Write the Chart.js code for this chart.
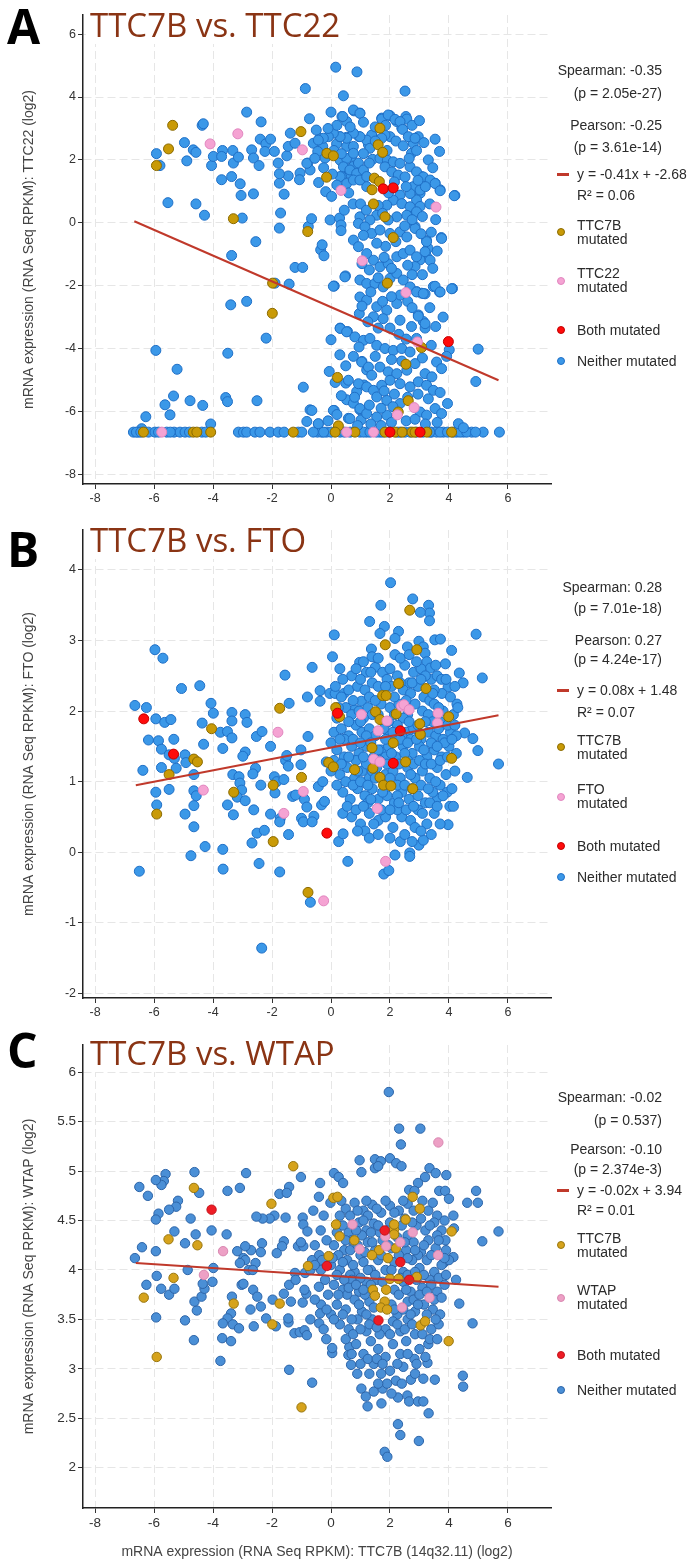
<!DOCTYPE html>
<html>
<head>
<meta charset="utf-8">
<title>TTC7B co-expression</title>
<script src="https://cdn.jsdelivr.net/npm/chart.js@4.4.1/dist/chart.umd.min.js"></script>
<style>
  html, body { margin: 0; padding: 0; background: #fff; }
  body { position: relative; width: 688px; height: 1561px; overflow: hidden; font-family: "Liberation Sans", Arial, sans-serif; color: #2b2b2b; }
  .panel { position: absolute; left: 0; width: 688px; }
  .panel canvas { position: absolute; left: 0; top: 0; }
  .letter { position: absolute; left: 7px; font-family: "Open Sans", sans-serif; font-weight: 700; font-size: 48px; line-height: 48px; color: #000; }
  .title { position: absolute; left: 86px; padding: 0 5px 0 4px; background: #fff; font-family: "Open Sans", sans-serif; font-size: 33px; line-height: 38px; color: #8a3414; white-space: nowrap; }
  .stat { position: absolute; left: 470px; width: 192px; text-align: right; font-size: 14px; line-height: 16px; white-space: nowrap; }
  .lab { position: absolute; left: 577px; font-size: 14px; line-height: 14px; white-space: nowrap; }
  .dot { position: absolute; left: 557px; width: 8px; height: 8px; border-radius: 50%; border: 1px solid; box-sizing: border-box; }
  .dash { position: absolute; left: 557px; width: 12px; height: 3px; background: #c0392b; }
</style>
</head>
<body>
<script>
// ---- shared axis data ----
const X_TICKS = [-8, -6, -4, -2, 0, 2, 4, 6];
const X_TITLE = "mRNA expression (RNA Seq RPKM): TTC7B (14q32.11) (log2)";
const GROUP_LABELS = { t7b: "TTC7B\nmutated", both: "Both mutated", neither: "Neither mutated" };

// ---- panel A: TTC7B vs. TTC22 ----
const A_TITLE = "TTC7B vs. TTC22";
const A_Y_TITLE = "mRNA expression (RNA Seq RPKM): TTC22 (log2)";
const A_Y_TICKS = [-8, -6, -4, -2, 0, 2, 4, 6];
const A_STATS = ["Spearman: -0.35", "(p = 2.05e-27)", "Pearson: -0.25", "(p = 3.61e-14)"];
const A_FIT_LABEL = ["y = -0.41x + -2.68", "R² = 0.06"];
const A_PARTNER_LABEL = "TTC22\nmutated";
const A_FIT = [[-6.67, 0.05], [5.68, -5.01]];
const A_BOTH = [[1.77, 1.08], [2.11, 1.11], [3.98, -3.78], [2.0, -6.66], [3.02, -6.66]];
const A_T7B = [[-5.37, 3.10], [-5.51, 2.35], [-5.92, 1.82], [-1.02, 2.90], [1.66, 3.01], [-0.14, 2.21], [0.08, 2.13],
  [-0.15, 1.45], [1.47, 1.42], [1.64, 1.31], [1.39, 1.05], [1.44, 0.60], [1.83, 0.19], [2.11, -0.47], [1.60, 2.48],
  [1.75, 2.24], [1.91, -1.92], [3.07, -3.97], [2.54, -4.50], [2.62, -5.66], [2.28, -6.02], [0.22, -4.92], [-1.98, -1.92],
  [-1.99, -2.88], [-3.31, 0.13], [-0.79, -0.28], [0.25, -6.46],
  [-6.36, -6.66], [-4.67, -6.66], [-4.55, -6.66], [-4.08, -6.66], [-1.28, -6.66], [0.14, -6.66], [0.81, -6.66],
  [1.83, -6.66], [2.17, -6.66], [2.41, -6.66], [2.75, -6.66], [2.85, -6.66], [3.25, -6.66], [4.09, -6.66]];
const A_PARTNER = [[-3.16, 2.83], [-4.10, 2.51], [-0.97, 2.32], [0.34, 1.03], [3.56, 0.50], [1.06, -1.21], [2.54, -2.22],
  [2.93, -3.79], [2.82, -5.88], [2.25, -6.11], [-5.74, -6.66], [0.53, -6.66], [1.44, -6.66]];
const A_NEITHER = [
  [0.16, 4.95], [0.88, 4.80], [-0.87, 4.27], [0.42, 4.04], [2.51, 4.19], [-2.86, 3.52], [0.0, 3.52], [0.78, 3.56], [0.98, 3.49],
  [0.37, 3.38], [0.53, 3.22], [-0.73, 3.31], [-2.37, 3.21], [-4.37, 3.10], [-4.33, 3.15], [1.72, 3.33], [2.0, 3.41], [2.23, 3.22],
  [2.54, 3.38], [2.40, 3.01], [-1.38, 2.85], [-4.97, 2.55], [-4.67, 2.32], [-4.58, 2.24], [-5.92, 2.20], [-5.80, 1.82],
  [-4.89, 1.97], [-4.05, 1.82], [-3.99, 2.11], [-3.68, 2.30], [-3.71, 2.11], [-3.33, 2.30], [-3.31, 1.90], [-3.14, 2.09],
  [-2.69, 2.32], [-2.63, 2.06], [-2.44, 1.82], [-2.40, 2.66], [-2.21, 2.51], [-2.05, 2.66], [-2.24, 2.27], [-1.92, 2.27],
  [-1.79, 1.90], [-1.50, 2.13], [-1.45, 2.43], [-1.22, 2.53], [-0.79, 1.90], [-0.71, 1.68], [-1.05, 1.58], [-1.07, 1.37],
  [-0.60, 2.53], [-0.38, 2.69], [-0.28, 2.43], [-0.45, 2.27], [-0.20, 2.06], [-0.42, 1.28], [-0.18, 0.99], [0.02, 0.84],
  [0.19, 2.51], [0.30, 2.74], [0.53, 2.72], [0.53, 2.43], [0.76, 2.43], [0.70, 2.11], [0.42, 1.90], [0.59, 1.58], [0.36, 1.47],
  [0.76, 1.79], [0.93, 1.90], [1.10, 1.58], [0.98, 1.37], [1.21, 1.15], [0.95, 2.74], [1.27, 2.48], [1.40, 2.77], [4.20, 0.87],
  [3.53, 2.66], [3.68, 2.27], [2.96, 2.74], [2.79, 2.53], [2.73, 2.21], [3.07, 1.47], [3.36, 1.31], [3.53, 1.26], [3.70, 1.05],
  [3.02, 0.94], [2.90, 0.73], [3.02, 0.52], [2.79, 0.31], [2.85, -0.12], [3.74, -0.47], [3.24, -0.56], [3.29, -0.81],
  [3.24, -1.07], [3.02, -1.18], [2.85, -1.39], [3.47, -2.03], [3.68, -2.20], [4.12, -2.09], [2.90, -2.19], [3.07, -2.24],
  [3.19, -2.26], [2.96, -2.93], [3.13, -3.14], [3.19, -3.35], [2.73, -3.30], [4.01, -4.04], [3.92, -4.25], [4.99, -4.02],
  [4.91, -5.05], [-1.90, -1.92], [-3.01, 0.15], [-5.53, 0.64], [-4.58, 0.60], [-4.29, 0.24], [-1.75, 1.26], [-1.59, 0.91],
  [-1.71, 0.31], [-1.75, -0.17], [-2.63, 0.92], [-3.05, 0.87], [-1.45, 1.49], [-1.75, 1.56], [-0.77, -0.12], [-0.66, 0.13],
  [-0.03, 0.09], [0.29, 0.15], [0.34, -0.07], [0.34, -0.25], [-2.55, -0.60], [-3.37, -1.04], [-0.35, -0.86], [-0.30, -0.70],
  [-0.24, -1.05], [-1.22, -1.42], [-0.96, -1.42], [-1.42, -1.95], [0.49, -1.69], [0.11, -2.01], [-3.40, -2.61], [-2.86, -2.50],
  [-2.2, -3.67], [0.0, -3.72], [0.31, -3.35], [0.56, -3.46], [-5.94, -4.06], [-3.50, -4.15], [-5.22, -4.66], [-5.63, -5.79],
  [-5.46, -6.11], [-5.34, -5.51], [-6.28, -6.17], [-4.78, -5.66], [-4.35, -5.81], [-3.57, -5.56], [-3.51, -5.69], [-2.51, -5.66],
  [-4.08, -6.40], [-0.94, -5.23], [-0.06, -4.73], [0.14, -5.08], [0.50, -5.10], [0.76, -4.25], [1.05, -4.41], [1.21, -4.68],
  [0.11, -5.97], [-0.71, -5.95], [-0.82, -6.32], [-0.43, -6.40], [0.53, -5.63], [0.76, -5.74], [0.98, -5.95], [0.87, -5.37],
  [1.12, -5.16], [0.59, -6.22], [1.02, -6.27], [-3.71, 1.37], [-3.37, 1.47], [-3.08, 1.24], [-6.42, -6.55],
  [-6.70, -6.66], [-6.53, -6.66], [-6.19, -6.66], [-5.97, -6.66], [-5.57, -6.66], [-5.32, -6.66], [-5.12, -6.66], [-4.95, -6.66],
  [-4.38, -6.66], [-3.14, -6.66], [-2.97, -6.66], [-2.86, -6.66], [-2.58, -6.66], [-2.41, -6.66], [-2.07, -6.66], [-1.79, -6.66],
  [-1.59, -6.66], [-1.11, -6.66], [-0.99, -6.66], [-0.46, -6.66], [-0.32, -6.66], [-0.15, -6.66], [0.31, -6.66], [0.98, -6.66],
  [1.21, -6.66], [1.66, -6.66], [2.34, -6.66], [2.51, -6.66], [2.68, -6.66], [2.90, -6.66], [3.41, -6.66], [3.58, -6.66],
  [3.81, -6.66], [4.26, -6.66], [4.49, -6.66], [4.77, -6.66], [5.16, -6.66], [5.71, -6.66], [-6.60, -6.66], [-6.45, -6.66],
  [-5.85, -6.66], [-5.45, -6.66], [-4.80, -6.66], [-4.25, -6.66], [0.0, -6.66], [0.45, -6.66], [0.65, -6.66], [1.10, -6.66],
  [1.32, -6.66], [1.55, -6.66], [1.75, -6.66], [1.95, -6.66], [2.25, -6.66], [3.12, -6.66], [3.35, -6.66], [3.70, -6.66],
  [3.95, -6.66], [4.15, -6.66], [4.38, -6.66], [4.60, -6.66], [4.90, -6.66], [-0.60, -6.66], [-0.25, -6.66],
  [4.32, -6.39], [4.49, -6.52],
  [1.72, 3.30], [2.57, 3.30], [0.40, 3.38], [0.76, 3.59], [0.98, 3.48], [1.94, 3.43], [2.17, 3.29], [2.34, 3.22], [2.43, 2.97],
  [2.62, 2.74], [2.85, 2.69], [2.0, 2.74], [1.83, 2.79], [1.72, 2.69], [1.38, 2.79], [1.21, 2.63], [1.32, 2.37], [0.98, 2.74],
  [0.76, 2.85], [0.53, 2.69], [0.31, 2.74], [0.08, 2.85], [-0.09, 2.74], [-0.26, 2.69], [-0.43, 2.63], [-0.82, 1.89],
  [0.31, 1.99], [0.53, 2.05], [0.76, 2.21], [0.42, 1.78], [0.64, 1.68], [0.87, 1.57], [1.10, 1.68], [0.31, 1.47], [0.53, 1.25],
  [0.76, 1.36], [0.98, 1.36], [1.21, 1.47], [1.41, 2.02], [1.66, 2.05], [1.91, 1.99], [2.11, 1.94], [2.34, 1.89], [1.83, 1.78],
  [2.06, 1.62], [2.28, 1.52], [2.51, 1.46], [2.68, 1.78], [2.90, 1.62], [3.13, 1.46], [3.36, 1.36], [3.53, 1.25], [3.70, 1.02],
  [4.18, 0.86], [2.79, 1.15], [3.02, 1.04], [2.68, 0.93], [2.34, 0.88], [2.11, 0.72], [1.89, 0.56], [2.40, 0.61], [2.68, 0.51],
  [2.90, 0.35], [2.57, 0.24], [2.23, 0.19], [1.94, 0.09], [1.55, 0.24], [1.32, 0.09], [0.98, 0.19], [0.93, -0.02], [1.15, -0.13],
  [1.38, -0.34], [1.66, -0.23], [2.0, -0.34], [2.34, -0.29], [2.57, -0.45], [2.85, -0.18], [3.24, -0.60], [3.75, -0.50],
  [0.76, -0.55], [0.93, -0.76], [1.21, -0.98], [1.44, -1.19], [1.66, -1.40], [1.94, -1.30], [2.23, -1.08], [2.45, -0.98],
  [2.68, -0.87], [2.90, -1.08], [3.19, -0.92], [3.36, -1.19], [0.47, -1.72], [0.98, -1.82], [1.21, -1.93], [1.49, -1.93],
  [1.77, -2.04], [2.0, -1.77], [2.23, -1.61], [2.45, -1.82], [2.68, -2.04], [2.90, -2.20], [3.13, -2.25], [3.53, -2.02],
  [3.70, -2.20], [4.09, -2.10], [0.98, -2.36], [1.21, -2.46], [1.55, -2.67], [1.89, -2.78], [2.23, -2.57], [1.44, -2.99],
  [1.77, -3.05], [2.34, -3.10], [2.96, -2.97], [3.19, -3.21], [0.08, -2.02], [0.96, -2.89], [0.31, -3.36], [0.53, -3.47],
  [0.81, -3.63], [1.10, -3.74], [1.32, -3.68], [1.55, -3.90], [1.83, -4.0], [2.11, -4.06], [2.40, -4.0], [2.68, -4.11],
  [2.90, -3.68], [1.04, -4.43], [1.27, -4.59], [1.38, -4.85], [1.66, -4.59], [1.94, -4.74], [2.23, -4.80], [2.57, -4.69],
  [2.85, -4.48], [3.19, -4.80], [3.42, -4.90], [3.58, -4.43], [3.75, -4.64], [0.59, -5.01], [0.93, -5.12], [1.21, -5.22],
  [1.44, -5.33], [1.72, -5.17], [2.0, -5.01], [2.34, -5.12], [2.68, -5.22], [2.96, -5.06], [3.24, -5.17], [3.47, -5.33],
  [1.55, -5.54], [1.89, -5.65], [2.34, -5.75], [0.64, -6.23], [0.98, -5.91], [1.21, -6.07], [1.55, -6.18], [1.89, -6.12],
  [3.02, -6.02], [3.24, -6.12], [3.53, -5.91], [3.75, -6.07], [-0.65, -5.97], [0.08, -5.97], [-0.43, -6.39]];
const A_NEITHER_DENSE = [
  [1.1, 2.2], [1.3, 1.9], [1.5, 2.6], [1.9, 2.3], [2.2, 2.6], [2.45, 2.45], [2.65, 2.05], [2.9, 2.3], [3.15, 2.55], [3.3, 2.0],
  [3.45, 1.75], [3.2, 1.15], [2.95, 1.35], [2.55, 1.15], [2.15, 1.3], [1.95, 0.95], [1.6, 0.55], [1.75, 0.3], [2.5, -0.1],
  [2.75, 0.1], [3.1, 0.2], [3.35, 0.6], [3.55, 0.1], [3.4, -0.3], [3.05, -0.35], [2.2, -0.6], [1.85, -0.75], [1.55, -0.65],
  [1.1, -0.4], [1.3, -1.5], [1.8, -1.1], [2.05, -1.45], [2.6, -1.35], [2.75, -1.65], [3.1, -1.65], [3.45, -1.45], [3.6, -0.9],
  [1.05, -1.3], [1.6, -1.75], [2.35, -2.3], [2.6, -2.5], [2.05, -2.35], [1.75, -2.5], [1.35, -2.2], [1.05, -2.65], [1.25, -3.15],
  [1.6, -3.35], [2.0, -3.35], [2.3, -3.55], [2.55, -3.7], [2.75, -2.7], [3.35, -2.7], [3.55, -3.3], [3.8, -3.0], [3.4, -3.9],
  [3.1, -4.3], [2.4, -4.4], [2.05, -4.35], [1.5, -4.25], [0.95, -3.95], [0.5, -4.55], [0.3, -4.2], [1.8, -5.35], [2.15, -5.45],
  [2.6, -5.55], [2.95, -5.45], [3.3, -5.6], [3.7, -5.4], [3.95, -5.75], [0.35, -5.5], [0.8, -5.55], [1.3, -5.8], [1.7, -5.9],
  [2.1, -5.85], [2.55, -6.3], [2.85, -6.25], [3.2, -6.4], [3.6, -6.35], [1.35, -6.4], [1.7, -6.45], [2.05, -6.35], [0.9, -6.45],
  [-0.1, -6.3], [0.2, -6.1], [0.2, 3.1], [-0.1, 3.0], [0.65, 3.05], [1.1, 3.2], [1.5, 3.05], [1.85, 3.1], [2.75, 3.1], [3.0, 3.25],
  [-0.5, 2.95], [0.1, 2.3], [0.35, 2.2], [-0.55, 2.05], [-0.25, 1.75], [0.05, 1.55], [0.2, 1.2], [0.6, 0.95], [0.75, 0.6],
  [0.45, 0.4], [1.0, 0.6], [1.2, 0.4]];

// ---- panel B: TTC7B vs. FTO ----
const B_TITLE = "TTC7B vs. FTO";
const B_Y_TITLE = "mRNA expression (RNA Seq RPKM): FTO (log2)";
const B_Y_TICKS = [-2, -1, 0, 1, 2, 3, 4];
const B_STATS = ["Spearman: 0.28", "(p = 7.01e-18)", "Pearson: 0.27", "(p = 4.24e-17)"];
const B_FIT_LABEL = ["y = 0.08x + 1.48", "R² = 0.07"];
const B_PARTNER_LABEL = "FTO\nmutated";
const B_FIT = [[-6.62, 0.95], [5.68, 1.94]];
const B_BOTH = [[-6.35, 1.89], [-5.34, 1.39], [0.22, 1.97], [2.35, 1.72], [2.11, 1.26], [-0.14, 0.27]];
const B_T7B = [[2.67, 3.43], [1.84, 2.94], [2.91, 2.87], [-5.49, 1.10], [-5.91, 0.54], [-4.65, 1.32], [-4.53, 1.28],
  [-4.05, 1.75], [-3.30, 0.85], [-1.74, 2.04], [-1.96, 0.15], [-1.96, 0.95], [-1.00, 1.06], [-0.78, -0.57], [-0.08, 1.27],
  [0.08, 1.21], [0.16, 2.05], [0.29, 1.92], [1.51, 1.99], [1.75, 2.22], [1.87, 2.22], [1.66, 1.88], [2.21, 1.96], [2.29, 2.39],
  [3.22, 2.32], [3.01, 1.82], [3.03, 1.67], [3.99, 1.92], [2.11, 1.55], [1.39, 1.48], [2.53, 1.28], [0.80, 1.17], [1.42, 1.19],
  [1.66, 1.06], [1.78, 0.95], [2.03, 0.94], [2.77, 0.90], [4.09, 1.33]];
const B_PARTNER = [[-4.33, 0.88], [-1.80, 1.70], [-1.60, 0.55], [-0.94, 0.86], [-0.25, -0.69], [1.03, 1.95], [1.90, 1.86],
  [1.60, 1.72], [2.39, 2.07], [2.47, 2.09], [2.65, 2.02], [3.63, 1.97], [3.61, 1.83], [1.45, 1.32], [1.66, 1.28], [1.57, 0.62],
  [1.85, -0.13]];
const B_NEITHER = [
  [2.02, 3.82], [2.77, 3.59], [1.69, 3.50], [3.31, 3.50], [3.34, 3.39], [3.34, 3.28], [3.03, 3.40], [1.31, 3.27], [1.81, 3.20],
  [1.66, 3.10], [2.29, 3.13], [2.17, 3.03], [2.98, 2.99], [3.13, 2.91], [3.19, 2.82], [2.59, 2.91], [3.52, 3.01], [3.71, 3.02],
  [4.92, 3.09], [4.09, 2.86], [0.11, 3.08], [0.05, 2.77], [0.97, 2.69], [1.37, 2.88], [1.39, 2.77], [2.17, 2.80], [3.25, 2.70],
  [3.37, 2.61], [3.88, 2.67], [4.35, 2.54], [4.48, 2.40], [5.13, 2.47], [-0.64, 2.62], [-1.56, 2.51], [-5.97, 2.87],
  [-5.70, 2.75], [-5.07, 2.32], [-4.45, 2.36], [-6.65, 2.08], [-6.26, 2.05], [-5.94, 1.89], [-5.64, 1.84], [-5.43, 1.88],
  [-6.19, 1.59], [-5.85, 1.58], [-5.75, 1.46], [-5.33, 1.60], [-5.49, 1.38], [-5.31, 1.33], [-5.25, 1.19], [-5.75, 1.20],
  [-6.38, 1.16], [-5.94, 0.85], [-5.91, 0.67], [-5.49, 0.89], [-6.50, -0.27], [-4.95, 1.38], [-4.92, 1.27], [-4.65, 1.10],
  [-4.65, 0.87], [-4.57, 0.80], [-4.65, 0.66], [-4.95, 0.54], [-4.65, 0.36], [-4.27, 0.08], [-4.75, -0.05], [-3.67, 0.04],
  [-3.66, -0.24], [-4.37, 1.83], [-4.32, 1.53], [-4.07, 2.11], [-3.99, 1.97], [-3.67, 1.47], [-3.75, 1.70], [-3.51, 1.71],
  [-3.36, 1.62], [-3.36, 1.98], [-3.36, 1.86], [-2.91, 1.95], [-2.85, 1.84], [-2.91, 1.42], [-2.99, 1.36], [-3.33, 1.10],
  [-3.12, 1.07], [-3.09, 0.98], [-3.03, 0.88], [-3.51, 0.67], [-3.31, 0.53], [-3.18, 0.78], [-2.91, 0.73], [-2.62, 0.60],
  [-2.56, 1.19], [-2.65, 1.11], [-2.38, 0.95], [-2.53, 1.64], [-2.34, 1.71], [-2.05, 1.50], [-1.42, 2.11], [-2.51, 0.27],
  [-2.26, 0.31], [-2.68, 0.13], [-2.44, -0.16], [-1.74, -0.28], [-1.44, 0.25], [-2.05, 0.54], [-1.72, 0.48], [-1.74, 0.43],
  [-1.92, 1.07], [-1.84, 1.00], [-1.60, 1.03], [-1.90, 0.84], [-1.54, 1.30], [-1.45, 1.22], [-1.50, 1.37], [-1.30, 0.79],
  [-1.20, 0.81], [-1.02, 1.24], [-1.02, 1.45], [-0.90, 0.75], [-0.82, 0.64], [-1.00, 0.48], [-0.94, 0.43], [-0.58, 0.51],
  [-0.64, 0.43], [-0.70, -0.71], [-2.35, -1.36], [0.26, 0.15], [0.41, 0.26], [0.57, -0.13], [-0.32, 0.67], [-0.22, 0.72],
  [-0.43, 0.93], [-0.28, 1.00], [-0.16, 1.28], [-0.78, 1.64], [-0.80, 2.20], [-0.37, 2.29], [-0.37, 2.14], [-0.04, 2.25],
  [0.14, 2.25], [0.44, 2.25], [0.80, 2.02], [1.03, 2.14], [1.79, -0.31], [1.96, -0.26], [2.17, -0.04], [2.67, -0.01],
  [2.67, -0.06], [2.35, 0.15], [2.98, 0.10], [3.13, 0.17], [3.97, 0.39], [3.94, 0.85], [3.61, 0.77], [4.03, 0.65], [4.15, 0.65],
  [4.62, 1.06], [4.81, 1.61], [4.98, 1.44], [5.68, 1.25], [4.27, 2.10], [4.53, 1.69], [3.97, 2.34], [3.76, 2.25],
  [1.2, 2.55], [1.5, 2.62], [1.75, 2.55], [2.0, 2.6], [2.25, 2.5], [2.5, 2.65], [2.8, 2.55], [3.05, 2.6], [3.4, 2.45], [0.7, 2.5],
  [0.4, 2.45], [1.9, 2.45], [2.65, 2.4], [3.6, 2.5], [0.6, 2.3], [0.9, 2.35], [1.15, 2.3], [1.4, 2.4], [1.6, 2.35], [2.05, 2.35],
  [2.45, 2.3], [2.7, 2.25], [2.95, 2.35], [3.15, 2.2], [3.5, 2.3], [3.75, 2.45], [4.05, 2.2], [0.35, 2.2], [1.3, 2.2],
  [2.55, 2.15], [3.35, 2.15], [0.5, 2.05], [0.7, 1.95], [0.95, 2.0], [1.25, 2.05], [1.4, 1.95], [1.7, 2.1], [2.0, 2.05],
  [2.3, 2.1], [2.6, 1.95], [2.85, 2.1], [3.1, 2.0], [3.3, 1.95], [3.5, 2.1], [3.8, 2.0], [4.15, 1.95], [4.3, 2.05], [0.2, 1.9],
  [1.1, 1.9], [2.45, 1.9], [3.7, 1.85], [0.1, 1.7], [0.35, 1.75], [0.6, 1.65], [0.85, 1.8], [1.05, 1.7], [1.3, 1.75],
  [1.5, 1.65], [1.8, 1.75], [2.0, 1.65], [2.25, 1.8], [2.55, 1.7], [2.8, 1.75], [3.05, 1.6], [3.3, 1.7], [3.55, 1.65],
  [3.8, 1.6], [4.05, 1.7], [4.25, 1.65], [0.45, 1.6], [1.95, 1.85], [2.7, 1.6], [3.45, 1.85], [0.2, 1.45], [0.45, 1.35],
  [0.7, 1.5], [0.95, 1.4], [1.2, 1.5], [1.45, 1.35], [1.7, 1.45], [1.95, 1.5], [2.2, 1.35], [2.45, 1.5], [2.75, 1.4], [3.0, 1.5],
  [3.25, 1.35], [3.5, 1.45], [3.75, 1.35], [4.0, 1.5], [4.25, 1.4], [0.85, 1.3], [2.6, 1.3], [3.85, 1.55], [0.3, 1.1],
  [0.55, 1.2], [0.8, 1.05], [1.05, 1.15], [1.3, 1.05], [1.55, 1.2], [1.85, 1.1], [2.1, 1.15], [2.35, 1.05], [2.6, 1.2],
  [2.85, 1.05], [3.1, 1.15], [3.35, 1.05], [3.6, 1.2], [3.9, 1.1], [4.2, 1.15], [1.2, 1.25], [2.8, 1.25], [0.0, 1.15],
  [0.4, 0.85], [0.65, 0.75], [0.9, 0.9], [1.15, 0.8], [1.4, 0.9], [1.6, 0.75], [1.9, 0.8], [2.15, 0.7], [2.4, 0.85],
  [2.65, 0.75], [2.95, 0.8], [3.2, 0.7], [3.45, 0.85], [3.7, 0.95], [1.25, 0.7], [2.25, 0.95], [0.7, 0.5], [1.0, 0.4],
  [1.3, 0.55], [1.6, 0.45], [1.85, 0.5], [2.1, 0.35], [2.4, 0.5], [2.7, 0.45], [2.95, 0.6], [3.25, 0.4], [3.5, 0.55],
  [1.15, 0.3], [2.25, 0.6], [0.4, 0.55], [1.45, 0.4], [2.85, 0.35]];
const B_NEITHER_DENSE = [
  [0.3, 2.6], [0.85, 2.6], [1.1, 2.7], [1.35, 2.55], [1.6, 2.75], [2.35, 2.75], [2.65, 2.8], [2.9, 2.7], [3.2, 2.5], [3.55, 2.65],
  [3.9, 2.45], [0.15, 2.35], [0.75, 2.15], [1.0, 2.45], [1.5, 2.15], [1.85, 2.35], [2.15, 2.2], [2.35, 2.4], [2.75, 2.4],
  [3.05, 2.45], [3.45, 2.25], [3.65, 2.05], [4.2, 2.35], [0.25, 2.05], [0.6, 1.85], [1.0, 1.85], [1.2, 1.65], [1.6, 1.95],
  [1.85, 1.6], [2.15, 1.95], [2.4, 1.65], [2.65, 1.85], [2.95, 1.8], [3.2, 1.85], [3.4, 1.55], [3.65, 1.75], [3.95, 1.8],
  [4.2, 1.8], [0.0, 1.55], [0.3, 1.6], [0.75, 1.6], [1.0, 1.55], [1.35, 1.55], [1.6, 1.45], [1.85, 1.35], [2.1, 1.7],
  [2.35, 1.6], [2.6, 1.55], [2.9, 1.6], [3.15, 1.45], [3.6, 1.5], [4.1, 1.6], [0.1, 1.3], [0.35, 1.25], [0.6, 1.35], [0.9, 1.15],
  [1.1, 1.35], [1.4, 1.15], [1.65, 1.3], [1.9, 1.25], [2.05, 1.4], [2.3, 1.25], [2.5, 1.4], [2.7, 1.1], [3.0, 1.3], [3.2, 1.25],
  [3.4, 1.25], [3.7, 1.3], [3.95, 1.35], [0.2, 0.95], [0.5, 1.0], [0.75, 0.95], [1.0, 1.0], [1.25, 0.95], [1.5, 1.05],
  [1.75, 0.85], [2.0, 1.05], [2.25, 0.8], [2.5, 0.95], [2.75, 0.9], [3.05, 0.95], [3.3, 0.9], [3.55, 1.0], [3.8, 0.8], [4.1, 0.9],
  [0.55, 0.65], [0.85, 0.6], [1.1, 0.65], [1.35, 0.75], [1.7, 0.6], [2.0, 0.6], [2.3, 0.7], [2.55, 0.6], [2.8, 0.65], [3.1, 0.55],
  [3.35, 0.7], [3.6, 0.65], [0.9, 0.3], [1.3, 0.2], [1.6, 0.25], [2.0, 0.2], [2.5, 0.25], [2.75, 0.15], [3.05, 0.3], [3.4, 0.25],
  [3.7, 0.4]];

// ---- panel C: TTC7B vs. WTAP ----
const C_TITLE = "TTC7B vs. WTAP";
const C_Y_TITLE = "mRNA expression (RNA Seq RPKM): WTAP (log2)";
const C_Y_TICKS = [2, 2.5, 3, 3.5, 4, 4.5, 5, 5.5, 6];
const C_STATS = ["Spearman: -0.02", "(p = 0.537)", "Pearson: -0.10", "(p = 2.374e-3)"];
const C_FIT_LABEL = ["y = -0.02x + 3.94", "R² = 0.01"];
const C_PARTNER_LABEL = "WTAP\nmutated";
const C_FIT = [[-6.62, 4.07], [5.68, 3.83]];
const C_BOTH = [[-4.05, 4.61], [1.82, 4.40], [2.35, 4.08], [-0.14, 4.04], [2.65, 3.90], [1.61, 3.49]];
const C_T7B = [[-1.28, 5.05], [-4.65, 4.83], [-2.02, 4.67], [0.08, 4.73], [0.22, 4.74], [2.77, 4.74], [3.01, 4.62],
  [2.53, 4.51], [0.17, 4.46], [0.29, 4.34], [0.79, 4.30], [2.14, 4.41], [2.14, 4.36], [2.14, 4.46], [2.20, 4.22], [1.63, 4.20],
  [1.39, 4.15], [1.93, 4.12], [-0.08, 4.14], [-0.78, 4.04], [2.91, 3.93], [2.0, 3.91], [2.29, 3.91], [1.87, 3.80], [1.42, 3.80],
  [1.49, 3.74], [1.82, 3.68], [1.69, 3.62], [1.90, 3.60], [3.04, 3.44], [3.19, 3.48], [4.09, 4.39], [3.99, 3.28], [-4.53, 4.25],
  [-5.51, 4.31], [-6.35, 3.72], [-5.34, 3.92], [-5.91, 3.12], [-3.30, 3.66], [-1.74, 3.66], [-1.99, 3.45], [-1.0, 2.61]];
const C_PARTNER = [[3.64, 5.29], [3.63, 4.15], [3.34, 3.72], [2.77, 4.38], [2.35, 4.28], [1.84, 4.34], [1.87, 4.24],
  [0.97, 4.21], [0.73, 4.46], [2.41, 3.62], [-3.66, 4.19], [-4.31, 3.95]];
const C_NEITHER = [
  [1.96, 5.80], [2.31, 5.43], [3.03, 5.43], [2.37, 5.27], [0.97, 5.11], [1.49, 5.12], [1.69, 5.10], [2.0, 5.13], [2.21, 5.08],
  [2.39, 5.05], [1.49, 5.03], [1.60, 5.05], [1.03, 4.99], [3.34, 5.03], [3.19, 4.94], [3.55, 4.98], [3.91, 4.96], [2.95, 4.88],
  [2.65, 4.81], [2.83, 4.80], [3.67, 4.80], [3.87, 4.80], [4.0, 4.72], [4.62, 4.68], [4.92, 4.80], [4.98, 4.68], [5.68, 4.39],
  [5.13, 4.29], [4.80, 3.46], [4.47, 2.93], [4.48, 2.82], [4.35, 3.66], [4.24, 3.90], [4.15, 4.55], [4.17, 4.42], [4.15, 4.13],
  [3.88, 4.30], [3.82, 4.07], [-1.02, 4.94], [-1.42, 4.84], [-1.75, 4.77], [-1.92, 4.55], [-2.08, 4.52], [-2.32, 4.52],
  [-2.53, 4.54], [-1.54, 4.53], [-0.96, 4.53], [-0.94, 4.46], [-0.80, 4.39], [-1.12, 4.24], [-0.94, 4.24], [-1.02, 4.28],
  [-1.60, 4.29], [-1.66, 4.24], [-1.84, 4.17], [-2.34, 4.27], [-2.38, 4.18], [-2.71, 4.20], [-2.56, 4.07], [-2.91, 4.24],
  [-2.97, 4.12], [-3.18, 4.19], [-2.91, 4.10], [-2.79, 4.0], [-2.65, 4.0], [-3.09, 4.07], [-3.54, 4.36], [-3.99, 4.02],
  [-4.05, 4.40], [-3.51, 4.80], [-3.09, 4.83], [-2.88, 4.98], [-1.50, 4.78], [-4.47, 4.78], [-4.63, 4.99], [-4.76, 4.52],
  [-4.59, 4.36], [-4.95, 4.27], [-5.19, 4.70], [-5.25, 4.64], [-5.49, 4.61], [-5.31, 4.39], [-5.61, 4.97], [-5.67, 4.90],
  [-5.75, 4.86], [-5.94, 4.91], [-6.21, 4.75], [-6.50, 4.84], [-5.85, 4.57], [-5.94, 4.51], [-5.94, 4.19], [-6.41, 4.23],
  [-6.65, 4.12], [-6.26, 3.85], [-5.91, 3.94], [-5.76, 3.81], [-5.49, 3.75], [-5.31, 3.81], [-4.86, 4.0], [-5.93, 3.52],
  [-4.95, 3.49], [-4.55, 3.59], [-4.65, 3.29], [-4.63, 3.68], [-4.39, 3.73], [-4.29, 3.81], [-4.35, 3.86], [-4.02, 3.88],
  [-3.36, 3.73], [-3.39, 3.56], [-3.51, 3.51], [-3.33, 3.45], [-3.67, 3.46], [-3.69, 3.31], [-3.39, 3.28], [-3.75, 3.08],
  [-3.12, 3.41], [-3.03, 3.85], [-2.97, 3.86], [-2.64, 3.80], [-2.50, 3.73], [-2.38, 3.63], [-2.73, 3.60], [-2.62, 3.43],
  [-2.20, 3.51], [-1.87, 3.43], [-1.98, 3.70], [-1.60, 3.76], [-1.42, 3.85], [-1.44, 3.47], [-1.45, 3.51], [-1.36, 3.68],
  [-1.24, 3.36], [-1.06, 3.37], [-0.90, 3.39], [-0.82, 3.34], [-1.42, 2.99], [-0.64, 2.86], [-0.96, 3.67], [-0.84, 3.76],
  [-0.90, 3.80], [-0.88, 3.97], [-0.70, 4.0], [-0.64, 4.10], [-1.22, 3.97], [-1.20, 3.90], [-0.40, 4.15], [-0.34, 4.0],
  [-0.41, 3.83], [-0.34, 3.65], [-0.37, 3.56], [-0.40, 3.46], [-0.16, 3.30], [0.04, 3.16], [0.04, 3.21], [0.62, 3.22],
  [0.59, 3.14], [0.68, 3.04], [0.89, 2.95], [1.03, 2.80], [1.18, 2.72], [1.24, 2.62], [1.45, 2.77], [1.75, 2.80], [1.71, 2.65],
  [2.27, 2.71], [2.59, 2.73], [2.65, 2.67], [2.95, 2.67], [3.13, 2.67], [3.31, 2.55], [2.27, 2.44], [2.35, 2.33], [2.98, 2.27],
  [1.82, 2.16], [1.91, 2.11], [2.71, 2.89], [3.13, 2.90], [3.52, 2.89], [3.27, 3.06], [2.83, 3.10], [0.10, 4.98], [0.26, 4.94],
  [0.41, 4.88], [-0.37, 4.88], [-0.41, 4.74], [-0.02, 4.68],
  [0.5, 4.62], [0.8, 4.68], [1.1, 4.6], [1.4, 4.66], [1.7, 4.58], [2.0, 4.65], [2.3, 4.6], [2.6, 4.67], [3.3, 4.6], [3.6, 4.55],
  [0.3, 4.55], [1.25, 4.55], [0.4, 4.45], [0.6, 4.38], [0.95, 4.48], [1.2, 4.4], [1.45, 4.47], [1.65, 4.38], [2.0, 4.48],
  [2.4, 4.45], [2.6, 4.35], [2.9, 4.45], [3.2, 4.4], [3.5, 4.48], [3.75, 4.4], [1.05, 4.35], [0.1, 4.25], [0.45, 4.2], [0.7, 4.3],
  [1.0, 4.15], [1.25, 4.28], [1.5, 4.2], [1.75, 4.3], [2.05, 4.22], [2.55, 4.2], [2.8, 4.28], [3.05, 4.18], [3.3, 4.3],
  [3.55, 4.22], [3.9, 4.2], [0.25, 4.15], [2.95, 4.15], [0.0, 4.05], [0.3, 4.0], [0.55, 4.1], [0.8, 3.98], [1.1, 4.08],
  [1.35, 4.0], [1.6, 4.1], [1.85, 4.0], [2.15, 4.08], [2.45, 3.98], [2.75, 4.1], [3.0, 4.02], [3.25, 4.1], [3.5, 3.98],
  [3.75, 4.05], [4.0, 4.1], [-0.3, 4.1], [-0.55, 4.05], [0.65, 3.95], [2.6, 4.12], [0.1, 3.85], [0.4, 3.8], [0.7, 3.9],
  [0.95, 3.78], [1.2, 3.88], [1.55, 3.9], [2.15, 3.8], [2.45, 3.88], [2.7, 3.78], [3.1, 3.82], [3.35, 3.9], [3.6, 3.78],
  [3.85, 3.85], [-0.2, 3.9], [0.55, 3.75], [2.9, 3.9], [0.2, 3.65], [0.5, 3.6], [0.8, 3.7], [1.05, 3.58], [1.3, 3.68],
  [2.05, 3.65], [2.25, 3.55], [2.6, 3.68], [2.85, 3.58], [3.15, 3.65], [3.45, 3.6], [3.7, 3.55], [0.0, 3.55], [1.15, 3.75],
  [0.3, 3.45], [0.6, 3.4], [0.9, 3.5], [1.2, 3.38], [1.4, 3.5], [1.85, 3.4], [2.1, 3.48], [2.35, 3.38], [2.6, 3.5], [2.85, 3.35],
  [3.4, 3.4], [3.65, 3.45], [1.65, 3.35], [0.85, 3.25], [1.1, 3.15], [1.35, 3.28], [1.6, 3.2], [1.85, 3.12], [2.1, 3.25],
  [2.35, 3.15], [2.55, 3.28], [3.0, 3.2], [3.3, 3.25], [1.45, 3.05], [2.0, 2.98], [2.45, 3.02], [1.7, 2.95], [2.2, 2.88],
  [1.9, 2.85]];
const C_NEITHER_DENSE = [
  [0.35, 4.7], [0.65, 4.55], [0.9, 4.6], [1.2, 4.7], [1.55, 4.62], [1.85, 4.7], [2.15, 4.58], [2.45, 4.7], [2.8, 4.6], [3.1, 4.7],
  [3.45, 4.68], [0.2, 4.38], [0.5, 4.3], [0.85, 4.4], [1.1, 4.5], [1.35, 4.38], [1.6, 4.45], [1.9, 4.4], [2.25, 4.33],
  [2.5, 4.52], [2.75, 4.48], [3.05, 4.52], [3.35, 4.45], [3.6, 4.35], [3.85, 4.5], [0.05, 4.12], [0.4, 4.08], [0.65, 4.2],
  [0.9, 4.25], [1.15, 4.18], [1.4, 4.28], [1.7, 4.15], [1.95, 4.25], [2.3, 4.15], [2.5, 4.28], [2.85, 4.2], [3.15, 4.25],
  [3.4, 4.15], [3.65, 4.3], [3.85, 4.12], [0.2, 3.95], [0.45, 3.9], [0.75, 4.05], [1.0, 3.92], [1.25, 4.0], [1.5, 3.95],
  [1.75, 3.88], [2.05, 4.0], [2.35, 3.92], [2.6, 3.95], [2.85, 3.98], [3.15, 3.95], [3.4, 3.85], [3.65, 3.92], [3.9, 3.95],
  [-0.1, 3.75], [0.25, 3.75], [0.6, 3.82], [0.85, 3.85], [1.1, 3.8], [1.35, 3.85], [2.3, 3.75], [2.55, 3.8], [2.8, 3.7],
  [3.0, 3.75], [3.25, 3.78], [3.5, 3.7], [3.75, 3.72], [0.1, 3.5], [0.4, 3.55], [0.7, 3.5], [0.95, 3.65], [1.2, 3.55],
  [1.45, 3.62], [2.15, 3.6], [2.45, 3.6], [2.7, 3.55], [2.95, 3.65], [3.25, 3.55], [3.55, 3.5], [0.5, 3.3], [0.75, 3.35],
  [1.0, 3.4], [1.3, 3.45], [1.55, 3.42], [2.0, 3.35], [2.25, 3.45], [2.5, 3.4], [2.75, 3.45], [3.1, 3.35], [3.35, 3.3],
  [3.6, 3.3], [0.7, 3.15], [1.0, 3.05], [1.25, 3.1], [1.55, 3.1], [1.75, 3.05], [2.25, 3.05], [2.6, 3.15], [2.9, 3.05],
  [3.2, 3.12], [1.3, 2.95], [1.6, 2.85], [2.05, 2.75], [2.4, 2.85], [2.85, 2.95], [-0.15, 4.3], [-0.35, 4.4], [-0.55, 4.25],
  [-0.25, 4.55], [-0.6, 4.6], [-0.15, 3.6], [-0.55, 3.7], [-0.7, 3.5], [-0.25, 3.4]];

// ---- colours ----
const BRIGHT = { neither: ["#3b98e8", "#1f6fc6"], t7b: ["#c99a06", "#8a6a00"], partner: ["#f5a3d3", "#e086bf"], both: ["#ff0b0b", "#c20000"] };
const MUTED = { neither: ["#4a8fd6", "#2c64a8"], t7b: ["#d6a31c", "#98760f"], partner: ["#eda0c5", "#d886b0"], both: ["#ee1c25", "#c3141b"] };
const FIT_COLOR = "#c0392b";

const X_MIN = -8.41, X_MAX = 7.46;

const PANELS = [
  { letter: "A", top: 0, height: 515, xScaleH: 31, yMin: -8.31, yMax: 6.61, yTicks: A_Y_TICKS, yTitle: A_Y_TITLE, title: A_TITLE,
    stats: A_STATS, fitLabel: A_FIT_LABEL, partnerLabel: A_PARTNER_LABEL, fit: A_FIT, both: A_BOTH, t7b: A_T7B,
    partner: A_PARTNER, neither: A_NEITHER.concat(A_NEITHER_DENSE), colors: BRIGHT, radius: 5, tickSize: 12.5,
    letterTop: 1.5, titleTop: 6, legY: { stats: [70, 93, 125, 147], fit: [174, 195], t7b: 225, partner: 273, both: 330, neither: 361 } },
  { letter: "B", top: 515, height: 515, xScaleH: 32, yMin: -2.067, yMax: 4.567, yTicks: B_Y_TICKS, yTitle: B_Y_TITLE, title: B_TITLE,
    stats: B_STATS, fitLabel: B_FIT_LABEL, partnerLabel: B_PARTNER_LABEL, fit: B_FIT, both: B_BOTH, t7b: B_T7B,
    partner: B_PARTNER, neither: B_NEITHER.concat(B_NEITHER_DENSE), colors: BRIGHT, radius: 5, tickSize: 12.5,
    letterTop: 524.5, titleTop: 521, legY: { stats: [587, 608, 640, 659], fit: [690, 712], t7b: 740, partner: 789, both: 846, neither: 877 } },
  { letter: "C", top: 1030, height: 531, xScaleH: 53, yMin: 1.592, yMax: 6.276, yTicks: C_Y_TICKS, yTitle: C_Y_TITLE, title: C_TITLE,
    stats: C_STATS, fitLabel: C_FIT_LABEL, partnerLabel: C_PARTNER_LABEL, fit: C_FIT, both: C_BOTH, t7b: C_T7B,
    partner: C_PARTNER, neither: C_NEITHER.concat(C_NEITHER_DENSE), colors: MUTED, radius: 4.7, tickSize: 13.5, xTitle: X_TITLE,
    letterTop: 1025.5, titleTop: 1034, legY: { stats: [1097, 1120, 1149, 1169], fit: [1190, 1210], t7b: 1238, partner: 1290, both: 1355, neither: 1390 } }
];

const pts = arr => arr.map(([x, y]) => ({ x, y }));

function addText(cls, text, top) {
  const el = document.createElement("div");
  el.className = cls;
  el.style.top = top + "px";
  el.innerText = text;
  document.body.appendChild(el);
  return el;
}

function addDot(cy, colors) {
  const el = document.createElement("div");
  el.className = "dot";
  el.style.top = (cy - 4) + "px";
  el.style.background = colors[0];
  el.style.borderColor = colors[1];
  document.body.appendChild(el);
}

function renderPanel(p) {
  const box = document.createElement("div");
  box.className = "panel";
  box.style.top = p.top + "px";
  box.style.height = p.height + "px";
  const canvas = document.createElement("canvas");
  canvas.width = 560;
  canvas.height = p.height;
  box.appendChild(canvas);
  document.body.appendChild(box);

  const dots = (data, c) => ({
    data: pts(data), backgroundColor: c[0], borderColor: c[1], borderWidth: 1,
    pointRadius: p.radius, pointHoverRadius: p.radius
  });
  const tickFont = { family: "'Liberation Sans', Arial, sans-serif", size: p.tickSize };
  const titleFont = { family: "'Liberation Sans', Arial, sans-serif", size: 14 };

  new Chart(canvas.getContext("2d"), {
    type: "scatter",
    data: {
      datasets: [
        { type: "line", data: pts(p.fit), borderColor: FIT_COLOR, borderWidth: 2, pointRadius: 0, showLine: true, fill: false },
        dots(p.both, p.colors.both),
        dots(p.partner, p.colors.partner),
        dots(p.t7b, p.colors.t7b),
        dots(p.neither, p.colors.neither)
      ]
    },
    options: {
      responsive: false,
      animation: false,
      events: [],
      layout: { padding: { top: 15, right: 9, left: 0, bottom: 0 } },
      plugins: { legend: { display: false }, tooltip: { enabled: false } },
      scales: {
        x: {
          type: "linear", position: "bottom", min: X_MIN, max: X_MAX,
          afterBuildTicks: s => { s.ticks = X_TICKS.map(v => ({ value: v })); },
          afterFit: s => { s.height = p.xScaleH; },
          grid: { color: "#e6e6e6", lineWidth: 1, tickLength: 5, tickColor: "#333", tickWidth: 1, tickBorderDash: [] },
          border: { color: "#222", width: 1.5, dash: [8, 4] },
          ticks: { autoSkip: false, maxRotation: 0, padding: 2, color: "#333", font: tickFont, callback: v => String(v) },
          title: { display: !!p.xTitle, text: p.xTitle || "", color: "#444", font: titleFont, padding: { top: 0, bottom: 0 } }
        },
        y: {
          type: "linear", position: "left", min: p.yMin, max: p.yMax,
          afterBuildTicks: s => { s.ticks = p.yTicks.map(v => ({ value: v })); },
          afterFit: s => { s.width = 83; },
          grid: { color: "#e6e6e6", lineWidth: 1, tickLength: 5, tickColor: "#333", tickWidth: 1, tickBorderDash: [] },
          border: { color: "#222", width: 1.5, dash: [8, 4] },
          ticks: { autoSkip: false, padding: 2, color: "#333", font: tickFont, callback: v => String(v) },
          title: { display: true, text: p.yTitle, color: "#444", font: titleFont, padding: { top: 21, bottom: 0 } }
        }
      }
    }
  });

  // letter and title overlays
  addText("letter", p.letter, p.letterTop);
  addText("title", p.title, p.titleTop);

  // statistics block (right aligned)
  p.stats.forEach((s, i) => addText("stat", s, p.legY.stats[i] - 8));

  // fit line legend entry
  const dash = document.createElement("div");
  dash.className = "dash";
  dash.style.top = (p.legY.fit[0] - 1.5) + "px";
  document.body.appendChild(dash);
  addText("lab", p.fitLabel[0], p.legY.fit[0] - 7);
  addText("lab", p.fitLabel[1], p.legY.fit[1] - 7);

  // group entries
  addText("lab", GROUP_LABELS.t7b, p.legY.t7b - 7);
  addDot(p.legY.t7b + 7, p.colors.t7b);
  addText("lab", p.partnerLabel, p.legY.partner - 7);
  addDot(p.legY.partner + 7.5, p.colors.partner);
  addText("lab", GROUP_LABELS.both, p.legY.both - 7);
  addDot(p.legY.both, p.colors.both);
  addText("lab", GROUP_LABELS.neither, p.legY.neither - 7);
  addDot(p.legY.neither, p.colors.neither);
}

PANELS.forEach(renderPanel);
</script>
</body>
</html>
